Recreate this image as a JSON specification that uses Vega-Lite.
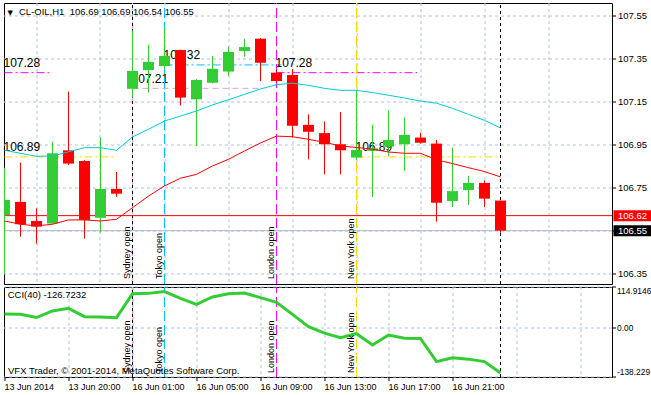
{
  "$schema": "https://vega.github.io/schema/vega-lite/v6.json",
  "background": "#FFFFFF",
  "padding": {"left": 3, "top": 2, "right": 0, "bottom": 0},
  "spacing": 1,
  "datasets": {
    "candles": [
      {"i": 0, "o": 106.622, "h": 106.843, "l": 106.349, "c": 106.693, "dir": "up"},
      {"i": 1, "o": 106.684, "h": 106.866, "l": 106.522, "c": 106.580, "dir": "down"},
      {"i": 2, "o": 106.595, "h": 106.654, "l": 106.490, "c": 106.569, "dir": "down"},
      {"i": 3, "o": 106.583, "h": 106.963, "l": 106.578, "c": 106.910, "dir": "up"},
      {"i": 4, "o": 106.924, "h": 107.197, "l": 106.855, "c": 106.862, "dir": "down"},
      {"i": 5, "o": 106.874, "h": 106.878, "l": 106.513, "c": 106.600, "dir": "down"},
      {"i": 6, "o": 106.610, "h": 106.983, "l": 106.541, "c": 106.744, "dir": "up"},
      {"i": 7, "o": 106.744, "h": 106.823, "l": 106.707, "c": 106.722, "dir": "down"},
      {"i": 8, "o": 107.210, "h": 107.482, "l": 107.169, "c": 107.293, "dir": "up"},
      {"i": 9, "o": 107.297, "h": 107.414, "l": 107.192, "c": 107.335, "dir": "up"},
      {"i": 10, "o": 107.316, "h": 107.494, "l": 107.300, "c": 107.363, "dir": "up"},
      {"i": 11, "o": 107.390, "h": 107.392, "l": 107.133, "c": 107.169, "dir": "down"},
      {"i": 12, "o": 107.161, "h": 107.255, "l": 106.944, "c": 107.251, "dir": "up"},
      {"i": 13, "o": 107.238, "h": 107.362, "l": 107.235, "c": 107.303, "dir": "up"},
      {"i": 14, "o": 107.290, "h": 107.406, "l": 107.270, "c": 107.381, "dir": "up"},
      {"i": 15, "o": 107.386, "h": 107.443, "l": 107.359, "c": 107.404, "dir": "up"},
      {"i": 16, "o": 107.443, "h": 107.446, "l": 107.246, "c": 107.331, "dir": "down"},
      {"i": 17, "o": 107.285, "h": 107.300, "l": 107.236, "c": 107.246, "dir": "down"},
      {"i": 18, "o": 107.274, "h": 107.301, "l": 106.983, "c": 107.038, "dir": "down"},
      {"i": 19, "o": 107.042, "h": 107.091, "l": 106.882, "c": 107.010, "dir": "down"},
      {"i": 20, "o": 107.004, "h": 107.058, "l": 106.812, "c": 106.952, "dir": "down"},
      {"i": 21, "o": 106.952, "h": 107.102, "l": 106.812, "c": 106.924, "dir": "down"},
      {"i": 22, "o": 106.890, "h": 107.203, "l": 106.880, "c": 106.925, "dir": "up"},
      {"i": 23, "o": 106.922, "h": 107.042, "l": 106.707, "c": 106.933, "dir": "up"},
      {"i": 24, "o": 106.941, "h": 107.111, "l": 106.897, "c": 106.972, "dir": "up"},
      {"i": 25, "o": 106.952, "h": 107.076, "l": 106.828, "c": 106.995, "dir": "up"},
      {"i": 26, "o": 106.983, "h": 107.006, "l": 106.955, "c": 106.959, "dir": "down"},
      {"i": 27, "o": 106.955, "h": 106.972, "l": 106.592, "c": 106.680, "dir": "down"},
      {"i": 28, "o": 106.688, "h": 106.936, "l": 106.660, "c": 106.734, "dir": "up"},
      {"i": 29, "o": 106.739, "h": 106.805, "l": 106.670, "c": 106.772, "dir": "up"},
      {"i": 30, "o": 106.772, "h": 106.784, "l": 106.660, "c": 106.699, "dir": "down"},
      {"i": 31, "o": 106.690, "h": 106.690, "l": 106.540, "c": 106.550, "dir": "down"}
    ],
    "ma": [
      {"i": 0, "m1": 106.924, "m2": 106.595},
      {"i": 1, "m1": 106.910, "m2": 106.580},
      {"i": 2, "m1": 106.896, "m2": 106.572},
      {"i": 3, "m1": 106.897, "m2": 106.580},
      {"i": 4, "m1": 106.917, "m2": 106.600},
      {"i": 5, "m1": 106.936, "m2": 106.600},
      {"i": 6, "m1": 106.936, "m2": 106.595},
      {"i": 7, "m1": 106.924, "m2": 106.603},
      {"i": 8, "m1": 106.986, "m2": 106.657},
      {"i": 9, "m1": 107.022, "m2": 106.711},
      {"i": 10, "m1": 107.060, "m2": 106.758},
      {"i": 11, "m1": 107.083, "m2": 106.794},
      {"i": 12, "m1": 107.107, "m2": 106.812},
      {"i": 13, "m1": 107.135, "m2": 106.851},
      {"i": 14, "m1": 107.159, "m2": 106.882},
      {"i": 15, "m1": 107.184, "m2": 106.921},
      {"i": 16, "m1": 107.209, "m2": 106.958},
      {"i": 17, "m1": 107.229, "m2": 106.990},
      {"i": 18, "m1": 107.236, "m2": 106.987},
      {"i": 19, "m1": 107.226, "m2": 106.975},
      {"i": 20, "m1": 107.212, "m2": 106.961},
      {"i": 21, "m1": 107.203, "m2": 106.944},
      {"i": 22, "m1": 107.203, "m2": 106.937},
      {"i": 23, "m1": 107.192, "m2": 106.929},
      {"i": 24, "m1": 107.180, "m2": 106.916},
      {"i": 25, "m1": 107.167, "m2": 106.910},
      {"i": 26, "m1": 107.153, "m2": 106.910},
      {"i": 27, "m1": 107.143, "m2": 106.880},
      {"i": 28, "m1": 107.119, "m2": 106.862},
      {"i": 29, "m1": 107.091, "m2": 106.843},
      {"i": 30, "m1": 107.063, "m2": 106.825},
      {"i": 31, "m1": 107.028, "m2": 106.800}
    ],
    "cci": [
      {"i": 0, "v": 39}, {"i": 1, "v": 38}, {"i": 2, "v": 29}, {"i": 3, "v": 47.5},
      {"i": 4, "v": 55}, {"i": 5, "v": 31.5}, {"i": 6, "v": 30.7}, {"i": 7, "v": 28.7},
      {"i": 8, "v": 96}, {"i": 9, "v": 97}, {"i": 10, "v": 102}, {"i": 11, "v": 83},
      {"i": 12, "v": 66}, {"i": 13, "v": 87}, {"i": 14, "v": 96}, {"i": 15, "v": 98},
      {"i": 16, "v": 85}, {"i": 17, "v": 72}, {"i": 18, "v": 38}, {"i": 19, "v": 3.4},
      {"i": 20, "v": -15}, {"i": 21, "v": -27.6}, {"i": 22, "v": -16.3}, {"i": 23, "v": -48},
      {"i": 24, "v": -20}, {"i": 25, "v": -29}, {"i": 26, "v": -30}, {"i": 27, "v": -95},
      {"i": 28, "v": -84}, {"i": 29, "v": -88}, {"i": 30, "v": -95}, {"i": 31, "v": -126.7232}
    ],
    "sessions": [
      {"i": 8, "session": "sydney", "label": "Sydney open"},
      {"i": 10, "session": "tokyo", "label": "Tokyo open"},
      {"i": 17, "session": "london", "label": "London open"},
      {"i": 22, "session": "newyork", "label": "New York open"}
    ],
    "separators": [{"i": 8}, {"i": 31}],
    "levels": [
      {"x1": 0, "x2": 2.8, "p": 107.285, "session": "london", "label": "107.28"},
      {"x1": 0, "x2": 7.0, "p": 106.893, "session": "newyork", "label": "106.89"},
      {"x1": 8, "x2": 16.05, "p": 107.212, "session": "sydney", "label": "107.21"},
      {"x1": 10, "x2": 17.3, "p": 107.321, "session": "tokyo", "label": "107.32"},
      {"x1": 17, "x2": 25.8, "p": 107.285, "session": "london", "label": "107.28"},
      {"x1": 22, "x2": 30.8, "p": 106.893, "session": "newyork", "label": "106.89"}
    ],
    "hlines": [
      {"p": 106.62, "kind": "alert", "label": "106.62"},
      {"p": 106.55, "kind": "bid", "label": "106.55"}
    ],
    "notes": [
      {"name": "menu", "text": "▼"},
      {"name": "symbol", "text": "CL-OIL,H1\u00a0 106.69 106.69 106.54 106.55"},
      {"name": "cci", "text": "CCI(40) -126.7232"},
      {"name": "copyright", "text": "VFX Trader, © 2001-2014, MetaQuotes Software Corp."}
    ]
  },
  "vconcat": [
    {
      "width": 608,
      "height": 281,
      "layer": [
        {
          "data": {"name": "levels"},
          "transform": [{"filter": "datum.session != 'sydney'"}],
          "mark": {"type": "rule", "strokeWidth": 1, "strokeDash": [8, 3, 2, 3], "clip": true},
          "encoding": {
            "x": {"field": "x1", "type": "quantitative",
                  "scale": {"domain": [-0.03125, 37.96875], "nice": false, "zero": false, "padding": 0},
                  "axis": {"orient": "bottom", "values": [2,4,6,8,10,12,14,16,18,20,22,24,26,28,30,32,34,36], "grid": true, "labels": false, "ticks": false, "domain": false, "title": null}},
            "x2": {"field": "x2"},
            "y": {"field": "p", "type": "quantitative",
                  "scale": {"domain": [106.302, 107.609], "nice": false, "zero": false, "padding": 0},
                  "axis": {"orient": "right", "values": [106.35, 106.55, 106.75, 106.95, 107.15, 107.35, 107.55], "grid": true, "domain": false, "title": null,
                           "labelExpr": "datum.value == 106.55 ? '' : format(datum.value, '.2f')"}},
            "color": {"field": "session", "type": "nominal", "legend": null,
                      "scale": {"domain": ["up", "down", "sydney", "tokyo", "london", "newyork", "alert", "bid"], "range": ["#32CD32", "#FF0000", "#DDA0DD", "#00BFFF", "#FF00FF", "#FFD700", "#FF0000", "#B0B8C8"]}}
          }
        },
        {
          "data": {"name": "levels"},
          "transform": [{"filter": "datum.session == 'sydney'"}],
          "mark": {"type": "rule", "strokeWidth": 1, "strokeDash": [6, 4], "clip": true},
          "encoding": {
            "x": {"field": "x1", "type": "quantitative"},
            "x2": {"field": "x2"},
            "y": {"field": "p", "type": "quantitative"},
            "color": {"field": "session", "type": "nominal", "legend": null}
          }
        },
        {
          "data": {"name": "levels"},
          "mark": {"type": "text", "align": "left", "baseline": "alphabetic", "dy": -5.5, "dx": -1, "fontSize": 12, "color": "#000000"},
          "encoding": {
            "x": {"field": "x1", "type": "quantitative"},
            "y": {"field": "p", "type": "quantitative"},
            "text": {"field": "label"}
          }
        },
        {
          "data": {"name": "sessions"},
          "mark": {"type": "rule", "strokeWidth": 1, "strokeDash": [10, 4]},
          "encoding": {
            "x": {"field": "i", "type": "quantitative"},
            "y": {"datum": 106.302, "type": "quantitative"},
            "y2": {"datum": 107.609},
            "color": {"field": "session", "type": "nominal", "legend": null}
          }
        },
        {
          "data": {"name": "separators"},
          "mark": {"type": "rule", "strokeWidth": 1, "strokeDash": [3, 3], "color": "#000000"},
          "encoding": {
            "x": {"field": "i", "type": "quantitative"},
            "y": {"datum": 106.302, "type": "quantitative"},
            "y2": {"datum": 107.609}
          }
        },
        {
          "data": {"name": "hlines"},
          "mark": {"type": "rule", "strokeWidth": 1},
          "encoding": {
            "x": {"datum": -0.03125, "type": "quantitative"},
            "x2": {"datum": 37.96875},
            "y": {"field": "p", "type": "quantitative"},
            "color": {"field": "kind", "type": "nominal", "legend": null}
          }
        },
        {
          "data": {"name": "candles"},
          "mark": {"type": "rule", "strokeWidth": 1, "clip": true},
          "encoding": {
            "x": {"field": "i", "type": "quantitative"},
            "y": {"field": "l", "type": "quantitative"},
            "y2": {"field": "h"},
            "color": {"field": "dir", "type": "nominal", "legend": null}
          }
        },
        {
          "data": {"name": "candles"},
          "mark": {"type": "bar", "size": 11, "clip": true},
          "encoding": {
            "x": {"field": "i", "type": "quantitative"},
            "y": {"field": "o", "type": "quantitative"},
            "y2": {"field": "c"},
            "color": {"field": "dir", "type": "nominal", "legend": null}
          }
        },
        {
          "data": {"name": "ma"},
          "mark": {"type": "line", "strokeWidth": 1, "color": "#00CED1", "clip": true},
          "encoding": {
            "x": {"field": "i", "type": "quantitative"},
            "y": {"field": "m1", "type": "quantitative"}
          }
        },
        {
          "data": {"name": "ma"},
          "mark": {"type": "line", "strokeWidth": 1, "color": "#FF0000", "clip": true},
          "encoding": {
            "x": {"field": "i", "type": "quantitative"},
            "y": {"field": "m2", "type": "quantitative"}
          }
        },
        {
          "data": {"name": "sessions"},
          "mark": {"type": "text", "angle": 270, "align": "left", "baseline": "alphabetic", "dy": -3, "fontSize": 9, "color": "#000000"},
          "encoding": {
            "x": {"field": "i", "type": "quantitative"},
            "y": {"datum": 106.325, "type": "quantitative"},
            "text": {"field": "label"}
          }
        },
        {
          "data": {"name": "notes"},
          "transform": [{"filter": "datum.name == 'symbol'"}],
          "mark": {"type": "text", "align": "left", "baseline": "alphabetic", "fontSize": 9.5, "color": "#000000"},
          "encoding": {
            "x": {"datum": 0.906, "type": "quantitative"},
            "y": {"datum": 107.553, "type": "quantitative"},
            "text": {"field": "text"}
          }
        },
        {
          "data": {"name": "notes"},
          "transform": [{"filter": "datum.name == 'menu'"}],
          "mark": {"type": "text", "align": "center", "baseline": "alphabetic", "fontSize": 7, "font": "DejaVu Sans", "color": "#000000"},
          "encoding": {
            "x": {"datum": 0.36, "type": "quantitative"},
            "y": {"datum": 107.555, "type": "quantitative"},
            "text": {"field": "text"}
          }
        },
        {
          "data": {"name": "hlines"},
          "transform": [{"filter": "datum.kind == 'alert'"}],
          "mark": {"type": "tick", "orient": "horizontal", "thickness": 11, "size": 39, "opacity": 1, "color": "#FF0000", "clip": false},
          "encoding": {
            "x": {"datum": 39.28, "type": "quantitative"},
            "y": {"field": "p", "type": "quantitative"}
          }
        },
        {
          "data": {"name": "hlines"},
          "transform": [{"filter": "datum.kind == 'bid'"}],
          "mark": {"type": "tick", "orient": "horizontal", "thickness": 11, "size": 39, "opacity": 1, "color": "#000000", "clip": false},
          "encoding": {
            "x": {"datum": 39.28, "type": "quantitative"},
            "y": {"field": "p", "type": "quantitative"}
          }
        },
        {
          "data": {"name": "hlines"},
          "mark": {"type": "text", "align": "left", "baseline": "middle", "fontSize": 9.5, "color": "#FFFFFF", "clip": false},
          "encoding": {
            "x": {"datum": 38.34, "type": "quantitative"},
            "y": {"field": "p", "type": "quantitative"},
            "text": {"field": "label"}
          }
        }
      ]
    },
    {
      "width": 608,
      "height": 90,
      "layer": [
        {
          "data": {"name": "sessions"},
          "mark": {"type": "rule", "strokeWidth": 1, "strokeDash": [10, 4]},
          "encoding": {
            "x": {"field": "i", "type": "quantitative",
                  "scale": {"domain": [-0.03125, 37.96875], "nice": false, "zero": false, "padding": 0},
                  "axis": {"orient": "bottom", "values": [0,2,4,6,8,10,12,14,16,18,20,22,24,26,28,30,32,34,36], "grid": true, "domain": false, "title": null,
                           "gridOpacity": {"condition": {"test": "datum.value == 0", "value": 0}, "value": 1},
                           "tickOpacity": {"condition": {"test": "datum.value % 4 != 0 || datum.value > 28", "value": 0}, "value": 1},
                           "labelAlign": "left", "labelFlush": false, "labelFontSize": 9, "labelBaseline": "top",
                           "labelExpr": "datum.value % 4 != 0 || datum.value > 28 ? '' : ['13 Jun 2014', '13 Jun 20:00', '16 Jun 01:00', '16 Jun 05:00', '16 Jun 09:00', '16 Jun 13:00', '16 Jun 17:00', '16 Jun 21:00'][round(datum.value / 4)]"}},
            "y": {"datum": -138.229, "type": "quantitative",
                  "scale": {"domain": [-138.229, 114.9146], "nice": false, "zero": false, "padding": 0},
                  "axis": {"orient": "right", "values": [-138.229, 0, 114.9146], "grid": true, "domain": false, "title": null, "labelFlush": true,
                           "labelFontSize": 8.4, "labelPadding": 1,
                           "labelExpr": "datum.value == 0 ? '0.00' : (datum.value > 0 ? '114.9146' : '-138.229')"}},
            "y2": {"datum": 114.9146},
            "color": {"field": "session", "type": "nominal", "legend": null,
                      "scale": {"domain": ["up", "down", "sydney", "tokyo", "london", "newyork", "alert", "bid"], "range": ["#32CD32", "#FF0000", "#DDA0DD", "#00BFFF", "#FF00FF", "#FFD700", "#FF0000", "#B0B8C8"]}}
          }
        },
        {
          "data": {"name": "separators"},
          "mark": {"type": "rule", "strokeWidth": 1, "strokeDash": [3, 3], "color": "#000000"},
          "encoding": {
            "x": {"field": "i", "type": "quantitative"},
            "y": {"datum": -138.229, "type": "quantitative"},
            "y2": {"datum": 114.9146}
          }
        },
        {
          "data": {"name": "cci"},
          "mark": {"type": "line", "strokeWidth": 3, "color": "#32CD32", "clip": true},
          "encoding": {
            "x": {"field": "i", "type": "quantitative"},
            "y": {"field": "v", "type": "quantitative"}
          }
        },
        {
          "data": {"name": "sessions"},
          "mark": {"type": "text", "angle": 270, "align": "left", "baseline": "alphabetic", "dy": -3, "fontSize": 9, "color": "#000000"},
          "encoding": {
            "x": {"field": "i", "type": "quantitative"},
            "y": {"datum": -127, "type": "quantitative"},
            "text": {"field": "label"}
          }
        },
        {
          "data": {"name": "notes"},
          "transform": [{"filter": "datum.name == 'cci'"}],
          "mark": {"type": "text", "align": "left", "baseline": "alphabetic", "fontSize": 9.5, "color": "#000000"},
          "encoding": {
            "x": {"datum": 0.2, "type": "quantitative"},
            "y": {"datum": 84, "type": "quantitative"},
            "text": {"field": "text"}
          }
        },
        {
          "data": {"name": "notes"},
          "transform": [{"filter": "datum.name == 'copyright'"}],
          "mark": {"type": "text", "align": "left", "baseline": "alphabetic", "fontSize": 9.5, "color": "#000000"},
          "encoding": {
            "x": {"datum": 0.22, "type": "quantitative"},
            "y": {"datum": -128.8, "type": "quantitative"},
            "text": {"field": "text"}
          }
        }
      ]
    }
  ],
  "config": {
    "view": {"stroke": "#000000", "strokeWidth": 1},
    "text": {"font": "Liberation Sans"},
    "axis": {
      "gridColor": "#B0C4DE", "gridDash": [3, 3], "gridOpacity": 1, "gridWidth": 1,
      "labelFont": "Liberation Sans", "labelFontSize": 9.5, "labelColor": "#000000",
      "tickColor": "#000000", "tickSize": 4, "labelPadding": 2, "translate": 0
    }
  }
}
